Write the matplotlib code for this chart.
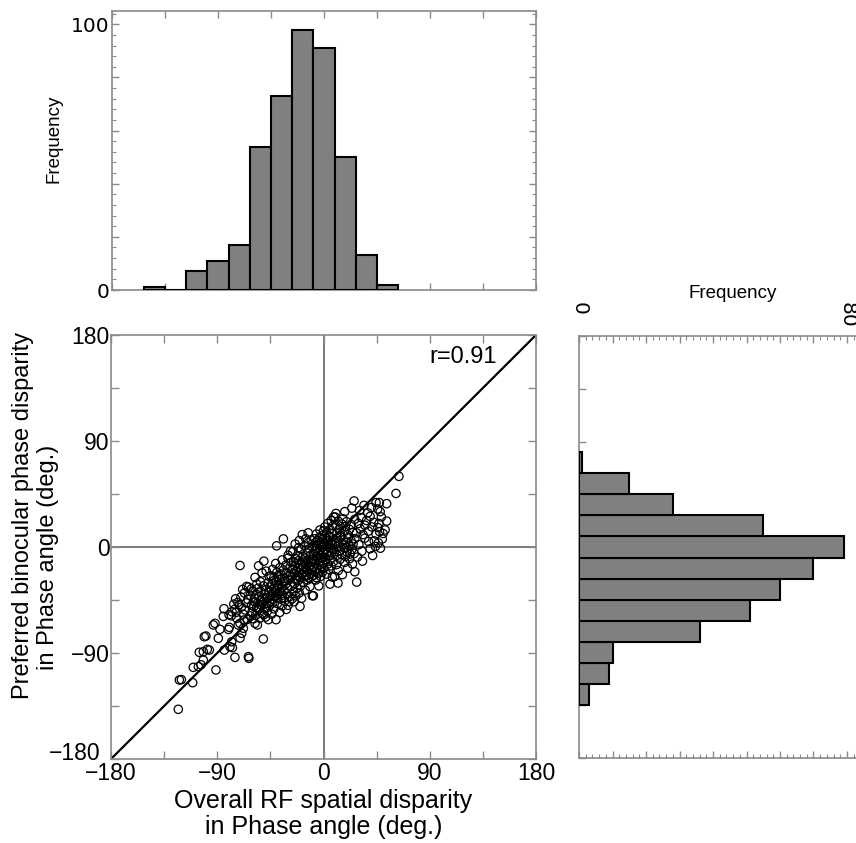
import matplotlib
matplotlib.use("Agg")
import matplotlib.pyplot as plt
from matplotlib import font_manager
from matplotlib.ticker import MultipleLocator, FuncFormatter, NullFormatter
import matplotlib.transforms as mtransforms

plt.rcParams['font.family'] = ['Liberation Sans', 'DejaVu Sans']
plt.rcParams['axes.unicode_minus'] = True

# ---------------------------------------------------------------- data
# Overall RF spatial disparity (x) and preferred binocular phase disparity (y), deg.
rf_disparity = [
    -123.0, -122.1, -120.4,
    -110.8, -110.3, -106.0, -103.8, -101.8, -105.2, -101.8, -101.0, -99.6,
    -91.1, -98.4, -96.7, -84.0, -93.3, -91.9, -89.1, -87.7, -84.3, -84.9,
    -79.2, -77.2, -75.0, -63.6, -63.2,
    -70.7, -69.3, -67.9, -72.2, -70.7, -79.8, -80.5, -77.8,
    -78.0, -75.0, -71.4, -77.5, -73.5, -68.0, -66.5, -64.5, -69.5, -72.5, -76.0, -65.5, -67.5, -80.0, -74.0,
    -65.1, -63.5, -70.0, -67.0, -74.5, -64.0, -68.5,
    -70.7,
    -58.0, -56.0, -51.0,
    -60.5, -59.0, -57.5, -56.0, -55.0, -54.0, -53.0, -52.0, -51.0, -50.0, -49.0, -48.0,
    -47.5, -46.7, -46.0, -58.5, -61.0, -62.0, -56.5, -53.5, -50.5, -48.5, -45.5, -59.5,
    -62.0, -60.0, -58.5, -57.0, -55.5, -54.5, -53.0, -52.0, -51.0, -50.0, -49.0, -48.0,
    -47.0, -46.0, -45.5, -61.0, -56.5, -53.5,
    -58.0, -52.0, -48.5, -46.0, -55.0, -50.5,
    -40.2, -44.0, -42.0, -39.0, -37.0, -35.0, -33.0, -31.5, -28.9, -43.0, -30.0,
    -44.5, -44.0, -43.5, -43.0, -42.5, -42.0, -41.5, -41.0, -40.5, -40.0, -39.5, -39.0, -38.5, -38.0,
    -37.5, -37.0, -36.0, -35.5, -35.0, -34.0, -33.5, -33.0, -32.0, -31.0, -30.5, -29.5, -28.5, -27.5,
    -44.5, -43.0, -42.0, -40.5, -39.5, -38.0, -37.0, -36.0, -35.0, -34.0, -33.0, -32.0, -31.0, -30.0,
    -29.0, -28.0, -27.5,
    -34.0, -39.7, -30.0, -28.0,
    -19.9, -25.0,
    -26.5, -25.5, -24.5, -23.5, -22.5, -21.5, -20.5, -19.5, -18.5, -17.0, -15.5, -13.5, -11.5, -9.5,
    -26.5, -26.0, -25.5, -25.0, -24.5, -24.0, -23.5, -23.0, -22.5, -22.0, -21.5, -21.0, -20.5, -20.0,
    -19.5, -19.0, -18.5, -18.0, -17.5, -17.0, -16.5, -16.0, -15.5, -15.0, -14.5, -14.0, -13.5, -13.0,
    -12.5, -12.0, -11.5, -11.0, -10.5, -10.0, -9.5, -9.5, -24.0,
    -26.0, -24.0, -22.0, -20.5, -19.0, -17.5, -16.0, -15.0, -14.0, -13.0, -12.0, -11.0, -10.5, -9.5, -21.0,
    -13.0, -18.0,
    -8.6, 5.5, -4.0, -6.5,
    -8.5, -8.0, -7.5, -7.0, -6.5, -6.0, -5.5, -5.0, -4.5, -4.0, -3.5, -3.0, -2.5, -2.0,
    -1.5, -1.0, -0.5, 0.5, 1.5, 2.5, 3.5, 4.5, 5.5, 6.5, 7.5, 8.5,
    -8.5, -8.0, -7.5, -7.0, -6.5, -6.0, -5.5, -5.0, -4.5, -4.0, -3.5, -3.0, -2.5, -2.0, -1.5, -1.0,
    -0.5, 0.0, 0.5, 1.0, 1.5, 2.0, 2.5, 3.0, 3.5, 4.0, 4.5, 5.0, 5.5, 6.0, 6.5, 7.0, 7.5, 8.0, 8.5, 0.0,
    -6.0, -3.0, -1.0, 1.0, 2.5, 3.5, 4.5, 5.5, 6.5, 7.0, 8.0, 8.5, 0.0,
    12.3,
    9.5, 11.0, 12.5, 14.0, 16.0, 18.0, 20.5, 22.0, 24.5, 26.5,
    9.5, 10.0, 11.0, 11.5, 12.5, 13.0, 14.0, 14.5, 15.5, 16.0, 17.0, 17.5, 18.5, 19.0, 20.0, 21.0,
    21.5, 22.5, 23.5, 24.0, 25.0, 26.0, 26.5, 19.5,
    9.8, 10.5, 11.5, 12.5, 13.5, 14.5, 15.5, 16.5, 17.5, 18.5, 19.5, 20.5, 22.0, 23.5, 25.0, 26.5,
    10.5, 18.0, 24.0, 25.9,
    28.1, 33.0,
    28.7, 41.6, 43.0, 38.2, 30.0, 32.5, 35.0, 39.5, 44.0,
    28.0, 29.5, 31.0, 32.0, 33.5, 35.0, 36.5, 38.0, 39.5, 41.0, 42.5, 44.5,
    34.3, 30.5, 37.5, 40.5, 44.5,
    48.2, 49.8, 46.5,
    52.2, 47.0, 49.0, 50.5, 46.0, 53.5, 47.5,
    47.3, 45.9, 53.5, 48.0,
    61.4,
    63.9,
]
pref_disparity = [
    -137.8, -112.9, -112.6,
    -115.2, -102.2, -101.6, -100.0, -96.0, -89.4, -88.9, -76.2, -75.6,
    -104.4, -86.9, -87.5, -87.5, -66.2, -64.8, -77.5, -69.9, -52.4, -58.9,
    -84.7, -85.5, -93.7, -93.1, -94.5,
    -77.3, -73.3, -69.0, -66.2, -64.8, -68.2, -70.0, -80.5,
    -58.4, -52.7, -49.0, -55.0, -60.5, -57.0, -53.5, -61.5, -51.0, -47.0, -48.5, -47.5, -62.0, -57.5, -55.5,
    -33.5, -34.0, -42.5, -39.0, -44.0, -44.5, -36.0,
    -15.7,
    -64.8, -66.2, -78.1,
    -55.0, -50.5, -58.0, -47.5, -53.0, -60.5, -49.0, -56.5, -46.5, -52.0, -59.5, -48.0,
    -54.5, -61.7, -50.0, -46.5, -49.5, -58.5, -51.5, -45.5, -57.5, -51.5, -47.0, -61.0,
    -41.0, -37.5, -43.5, -40.0, -35.0, -42.5, -38.0, -44.0, -33.0, -40.5, -36.5, -43.0,
    -30.5, -38.5, -34.0, -35.5, -31.5, -29.5,
    -25.8, -22.0, -20.5, -25.0, -16.0, -12.0,
    -61.7, -57.0, -52.5, -48.0, -55.5, -50.0, -46.0, -53.0, -46.2, -47.5, -49.5,
    -42.0, -36.5, -31.0, -44.5, -39.0, -28.5, -34.0, -41.5, -37.0, -30.0, -43.0, -35.5, -40.0, -32.5,
    -27.5, -38.0, -44.0, -34.5, -41.0, -29.5, -37.0, -43.0, -31.5, -39.5, -35.0, -28.0, -42.0, -33.5,
    -24.5, -19.0, -26.0, -14.0, -21.5, -25.5, -17.5, -23.0, -11.0, -19.5, -26.5, -15.5, -22.0, -9.5,
    -18.0, -24.0, -13.0,
    6.9, 1.0, -7.0, -3.5,
    -50.4, -46.5,
    -44.0, -38.0, -31.0, -41.5, -35.0, -28.5, -39.0, -33.0, -43.5, -30.0, -36.5, -28.0, -33.5, -41.4,
    -25.0, -19.0, -12.5, -22.0, -16.0, -26.5, -10.0, -20.5, -14.0, -24.0, -17.5, -11.5, -21.5, -26.0,
    -15.0, -19.0, -23.5, -12.0, -17.0, -25.5, -21.0, -13.5, -9.5, -18.5, -24.5, -15.0, -20.0, -11.0,
    -26.0, -16.5, -22.5, -13.0, -19.5, -25.0, -10.5, -17.0, -9.5,
    -4.0, 2.5, -7.5, 5.5, -2.0, -8.0, 1.0, 7.0, -5.0, 3.5, -1.5, -7.0, 6.0, 0.5, -0.5,
    12.0, 10.5,
    -41.4, -31.5, -33.0, -28.0,
    -24.0, -17.0, -11.5, -21.0, -14.0, -26.0, -18.5, -10.0, -22.5, -15.5, -12.0, -19.5, -25.0, -9.5,
    -16.5, -21.5, -13.0, -18.0, -10.5, -23.0, -14.5, -19.0, -11.0, -16.0, -25.5, -12.5,
    -6.0, 1.5, 7.0, -3.0, 4.0, -8.0, 0.0, 5.5, -5.0, 2.5, 8.0, -2.0, -7.0, 4.0, -0.5, 6.5,
    -4.0, 1.0, -8.5, 3.0, -2.5, 7.5, -6.0, 0.5, 5.0, -3.5, 2.0, 8.5, -7.5, -1.0, 4.5, -5.0, 1.5, 6.0, -2.0, -5.5,
    11.0, 14.5, 10.0, 17.0, 12.0, 20.0, 9.5, 15.0, 22.5, 11.5, 18.0, 25.5, 13.5,
    -30.6,
    -25.0, -15.0, -20.0, -10.5, -23.5, -13.0, -18.0, -10.0, -14.5, -21.0,
    -4.0, 3.0, 7.5, -7.0, 0.5, 5.0, -3.0, 8.5, -6.5, 2.0, 6.0, -1.0, -8.0, 4.0, -4.5, 8.0,
    1.0, -6.0, 5.0, -2.0, 2.5, -5.5, 7.0, 0.0,
    25.5, 18.0, 12.0, 22.0, 15.5, 10.0, 19.5, 24.0, 13.0, 17.5, 21.5, 10.5, 15.0, 19.0, 12.5, 23.5,
    28.5, 30.0, 33.0, 39.1,
    -29.8, -12.0,
    -8.6, -7.2, 5.2, 4.7, 2.0, -3.5, 7.5, -1.5, 0.5,
    12.0, 20.0, 15.5, 25.0, 10.5, 18.5, 22.5, 13.5, 26.0, 17.0, 21.0, 11.0,
    35.4, 31.0, 29.0, 33.5, 37.7,
    -1.0, 6.9, 3.5,
    14.5, 20.0, 25.5, 11.5, 16.5, 22.0, 13.0,
    37.7, 32.3, 36.8, 30.0,
    45.5,
    60.0,
]

# Histogram of the preferred phase disparity (18 deg bins)
pref_bin_centers = [-144, -126, -108, -90, -72, -54, -36, -18, 0, 18, 36, 54]
pref_counts = [1, 0, 7, 11, 17, 54, 73, 98, 91, 50, 13, 2]

# Histogram of the RF spatial disparity (18 deg bins)
rf_bin_centers = [-126, -108, -90, -72, -54, -36, -18, 0, 18, 36, 54, 72]
rf_counts = [3, 9, 10, 36, 51, 60, 70, 79, 55, 28, 15, 1]

bin_width = 18
r_value = 0.91
angle_ticks = [-180, -90, 0, 90, 180]

# ---------------------------------------------------------------- layout
W, H = 856, 843
fig = plt.figure(figsize=(W / 100, H / 100), dpi=100)


def axes_px(left, top, right, bottom):
    return fig.add_axes([left / W, 1 - bottom / H, (right - left) / W, (bottom - top) / H])


SPINE = '#8a8a8a'
BAR_FACE = '#808080'
TICK_FS = 16.5
XLABEL_FS = 18
YLABEL_FS = 17

names = {f.name for f in font_manager.fontManager.ttflist}
if 'Liberation Sans Narrow' in names:
    freq_font = dict(family=['Liberation Sans Narrow', 'DejaVu Sans'], fontsize=15.5)
else:
    freq_font = dict(family=['Liberation Sans', 'DejaVu Sans'], fontsize=13.5)


def style_spines(ax):
    for s in ax.spines.values():
        s.set_color(SPINE)
        s.set_linewidth(1.2)


def angle_text(v):
    return '\u2212%d' % abs(v) if v < 0 else '%d' % v


# ---------------------------------------------------------------- scatter
ax = axes_px(111, 335, 536, 759)
ax.axhline(0, color='#6e6e6e', lw=1.3, zorder=1)
ax.axvline(0, color='#6e6e6e', lw=1.3, zorder=1)
ax.plot([-180, 180], [-180, 180], color='black', lw=1.6, zorder=2)
ax.scatter(rf_disparity, pref_disparity, s=36, facecolors='none',
           edgecolors='black', linewidths=0.9, zorder=3)
ax.set_xlim(-180, 180)
ax.set_ylim(-180, 180)
ax.xaxis.set_major_locator(MultipleLocator(45))
ax.yaxis.set_major_locator(MultipleLocator(45))
ax.xaxis.set_major_formatter(FuncFormatter(
    lambda v, p: angle_text(v) if int(round(v)) in angle_ticks else ''))
# the lowest y label is placed by hand, a little above the corner
ax.yaxis.set_major_formatter(FuncFormatter(
    lambda v, p: angle_text(v) if int(round(v)) in angle_ticks[1:] else ''))
ax.tick_params(direction='in', length=6, width=1, color=SPINE,
               top=True, right=True, labelsize=TICK_FS)
ax.tick_params(axis='x', pad=2)
ax.tick_params(axis='y', pad=1)
ylab_tr = mtransforms.blended_transform_factory(ax.transAxes, ax.transData) + \
    mtransforms.ScaledTranslation(-11 / 100, 5 / 100, fig.dpi_scale_trans)
ax.text(0, angle_ticks[0], angle_text(angle_ticks[0]), transform=ylab_tr,
        ha='right', va='center', fontsize=TICK_FS, clip_on=False)
style_spines(ax)
ax.text(147, 161, 'r=%.2f' % r_value, fontsize=YLABEL_FS, ha='right', va='center')

ax_cx = (111 + 536) / 2
fig.text(ax_cx / W, 1 - 801 / H, 'Overall RF spatial disparity', fontsize=XLABEL_FS,
         ha='center', va='center')
fig.text(ax_cx / W, 1 - 827 / H, 'in Phase angle (deg.)', fontsize=XLABEL_FS,
         ha='center', va='center')
fig.text(23 / W, 1 - 515 / H, 'Preferred binocular phase disparity', fontsize=YLABEL_FS,
         ha='center', va='center', rotation=90)
fig.text(48 / W, 1 - 557 / H, 'in Phase angle (deg.)', fontsize=YLABEL_FS,
         ha='center', va='center', rotation=90)

# ---------------------------------------------------------------- top histogram
axt = axes_px(112, 11, 536, 290)
axt.bar(pref_bin_centers, pref_counts, width=bin_width, color=BAR_FACE,
        edgecolor='black', linewidth=1.5, zorder=3)
axt.set_xlim(-180, 180)
axt.set_ylim(0, 105)
axt.xaxis.set_major_locator(MultipleLocator(45))
axt.xaxis.set_major_formatter(NullFormatter())
axt.yaxis.set_major_locator(MultipleLocator(20))
axt.yaxis.set_minor_locator(MultipleLocator(4))
axt.yaxis.set_major_formatter(FuncFormatter(lambda v, p: '%d' % v if int(round(v)) in (0, 100) else ''))
axt.tick_params(which='major', direction='in', length=5, width=1, color=SPINE,
                top=True, right=True, pad=2)
axt.tick_params(which='minor', direction='in', length=3, width=0.8, color=SPINE,
                right=True)
for lab in axt.get_yticklabels():
    lab.set_family('DejaVu Sans')
    lab.set_fontsize(14.5)
style_spines(axt)
fig.text(54 / W, 1 - 139 / H, 'Frequency', rotation=90, ha='center', va='center', **freq_font)

# ---------------------------------------------------------------- right histogram
axr = axes_px(579, 336, 870, 758)
axr.barh(rf_bin_centers, rf_counts, height=bin_width, color=BAR_FACE,
         edgecolor='black', linewidth=1.5, zorder=3)
axr.set_ylim(-180, 180)
axr.set_xlim(0, 80 * (870 - 579) / (847 - 579))
axr.yaxis.set_major_locator(MultipleLocator(45))
axr.yaxis.set_major_formatter(NullFormatter())
axr.xaxis.set_major_locator(MultipleLocator(10))
axr.xaxis.set_minor_locator(MultipleLocator(2))
axr.xaxis.set_major_formatter(NullFormatter())
axr.tick_params(which='major', direction='in', length=5, width=1, color=SPINE,
                top=True, right=False)
axr.tick_params(which='minor', direction='in', length=3, width=0.8, color=SPINE,
                top=True)
style_spines(axr)
axr.spines['right'].set_visible(False)
label_tr = mtransforms.blended_transform_factory(axr.transData, axr.transAxes)
top_frac = 1 + 34 / (758 - 336)
for v in (0, 80):
    axr.text(v, top_frac, '%d' % v, transform=label_tr, rotation=-90,
             ha='center', va='top', family='DejaVu Sans', fontsize=14.5, clip_on=False)
fig.text(733 / W, 1 - 293 / H, 'Frequency', ha='center', va='center', **freq_font)

fig.savefig('out.png', dpi=100)
